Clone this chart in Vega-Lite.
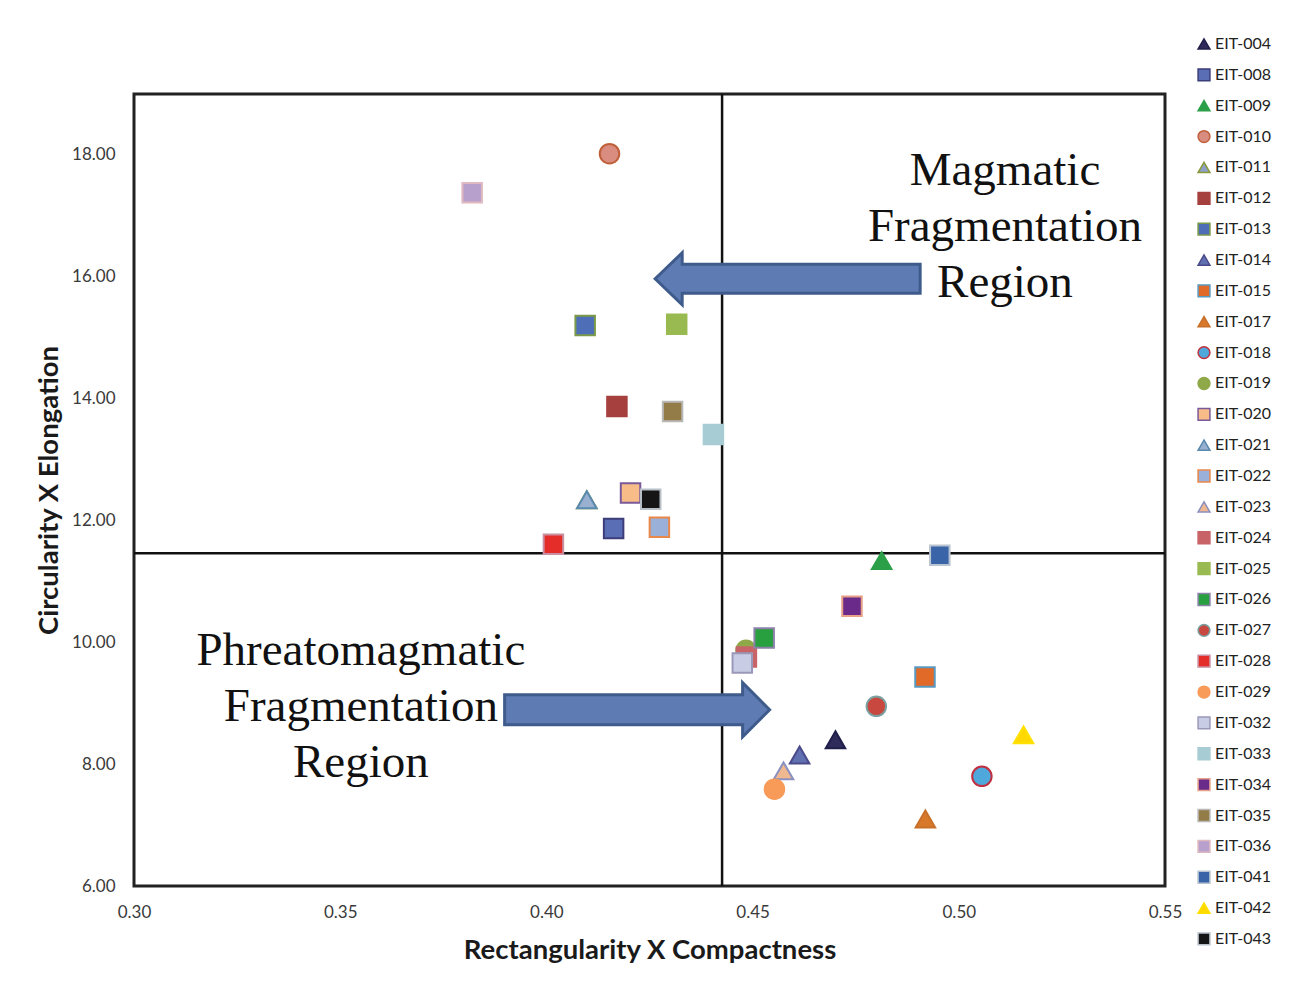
{
  "$schema": "https://vega.github.io/schema/vega-lite/v6.json",
  "width": 1031,
  "height": 792,
  "autosize": {"type": "none"},
  "padding": {"left": 134, "top": 94, "right": 142, "bottom": 105},
  "background": "white",
  "config": {
    "view": {"stroke": "#222222", "strokeWidth": 3},
    "font": "Lato",
    "axis": {"grid": false, "ticks": false, "domain": false, "labelFlush": false, "labelFont": "Lato", "labelFontSize": 17, "labelColor": "#3a3a3a", "titleFont": "Lato", "titleFontWeight": "bold", "titleColor": "#1a1a1a", "titleFontSize": 27.5},
    "legend": {"orient": "none", "legendX": 1062, "legendY": -58, "padding": 0, "symbolSize": 140, "symbolStrokeWidth": 1.5, "labelFont": "Lato", "labelFontSize": 16, "labelColor": "#222222", "rowPadding": 12.86, "labelOffset": 3}
  },
  "datasets": {
    "pts": [
      {"id": "EIT-004", "rc": 0.4701, "ce": 8.40},
      {"id": "EIT-008", "rc": 0.4163, "ce": 11.87},
      {"id": "EIT-009", "rc": 0.4813, "ce": 11.34},
      {"id": "EIT-010", "rc": 0.4153, "ce": 18.02},
      {"id": "EIT-011", "rc": 0.4098, "ce": 12.34},
      {"id": "EIT-012", "rc": 0.4171, "ce": 13.87},
      {"id": "EIT-013", "rc": 0.4094, "ce": 15.20},
      {"id": "EIT-014", "rc": 0.4614, "ce": 8.15},
      {"id": "EIT-015", "rc": 0.4918, "ce": 9.43},
      {"id": "EIT-017", "rc": 0.4919, "ce": 7.10},
      {"id": "EIT-018", "rc": 0.5056, "ce": 7.80},
      {"id": "EIT-019", "rc": 0.4484, "ce": 9.87},
      {"id": "EIT-020", "rc": 0.4204, "ce": 12.45},
      {"id": "EIT-021", "rc": 0.4098, "ce": 12.34},
      {"id": "EIT-022", "rc": 0.4274, "ce": 11.89},
      {"id": "EIT-023", "rc": 0.4575, "ce": 7.89},
      {"id": "EIT-024", "rc": 0.4485, "ce": 9.76},
      {"id": "EIT-025", "rc": 0.4316, "ce": 15.22},
      {"id": "EIT-026", "rc": 0.4528, "ce": 10.07},
      {"id": "EIT-027", "rc": 0.4800, "ce": 8.95},
      {"id": "EIT-028", "rc": 0.4017, "ce": 11.61},
      {"id": "EIT-029", "rc": 0.4553, "ce": 7.59},
      {"id": "EIT-032", "rc": 0.4475, "ce": 9.66},
      {"id": "EIT-033", "rc": 0.4405, "ce": 13.41},
      {"id": "EIT-034", "rc": 0.4741, "ce": 10.59},
      {"id": "EIT-035", "rc": 0.4306, "ce": 13.79},
      {"id": "EIT-036", "rc": 0.3820, "ce": 17.38},
      {"id": "EIT-041", "rc": 0.4954, "ce": 11.43},
      {"id": "EIT-042", "rc": 0.5157, "ce": 8.48},
      {"id": "EIT-043", "rc": 0.4253, "ce": 12.35}
    ]
  },
  "layer": [
    {
      "data": {"values": [{"rc": 0.4426}]},
      "mark": {"type": "rule", "color": "#111111", "strokeWidth": 2.5},
      "encoding": {"x": {"field": "rc", "type": "quantitative", "scale": {"domain": [0.30, 0.55], "nice": false}}}
    },
    {
      "data": {"values": [{"ce": 11.46}]},
      "mark": {"type": "rule", "color": "#111111", "strokeWidth": 2.5},
      "encoding": {"y": {"field": "ce", "type": "quantitative", "scale": {"domain": [6, 19], "nice": false}}}
    },
    {
      "data": {"name": "pts"},
      "mark": {"type": "point", "filled": true, "size": 380, "strokeWidth": 2, "opacity": 1, "fillOpacity": 1, "strokeOpacity": 1},
      "encoding": {
        "x": {"field": "rc", "type": "quantitative", "scale": {"domain": [0.30, 0.55], "nice": false},
          "axis": {"values": [0.30, 0.35, 0.40, 0.45, 0.50, 0.55], "format": ".2f", "title": "Rectangularity X Compactness", "labelPadding": 18, "titlePadding": 16}},
        "y": {"field": "ce", "type": "quantitative", "scale": {"domain": [6, 19], "nice": false},
          "axis": {"values": [6, 8, 10, 12, 14, 16, 18], "format": ".2f", "title": "Circularity X Elongation", "labelPadding": 19, "titlePadding": 8}},
        "shape": {"field": "id", "type": "nominal", "scale": {"range": [
          "triangle-up", "square", "triangle-up", "circle", "triangle-up", "square", "square", "triangle-up", "square", "triangle-up",
          "circle", "circle", "square", "triangle-up", "square", "triangle-up", "square", "square", "square", "circle",
          "square", "circle", "square", "square", "square", "square", "square", "square", "triangle-up", "square"]}, "legend": {"title": null}},
        "fill": {"field": "id", "type": "nominal", "scale": {"range": [
          "#2E2A5A", "#5A6EB5", "#2CA048", "#D98C80", "#8FA0C8", "#A5403E", "#4F6EB8", "#6070B0", "#E26A28", "#D8782A",
          "#4FA8DC", "#8FA848", "#F8BC88", "#9AB0D0", "#9AB0D8", "#F0B890", "#C86468", "#98BA50", "#28A040", "#C84840",
          "#E42C28", "#F89A58", "#C8CCE4", "#A8CCD4", "#6A2A8A", "#947C48", "#B8A0CC", "#3A64A8", "#FFD800", "#151515"]}, "legend": {"title": null}},
        "stroke": {"field": "id", "type": "nominal", "scale": {"range": [
          "#1F1F4A", "#3D3D7A", "#2CA048", "#C0603A", "#8A9A3A", "#A5403E", "#7A9A4A", "#4A4A8A", "#5A9AC0", "#C8702A",
          "#C03040", "#8FA848", "#7A5A9A", "#5A8AB0", "#E8884A", "#8A90C0", "#C86468", "#98BA50", "#8A80A8", "#7AA0A0",
          "#C890A0", "#F89A58", "#9A98B8", "#A8CCD4", "#E8A088", "#B8B8B8", "#E0B8C0", "#B8C4D0", "#FFE000", "#B8C0C8"]}, "legend": {"title": null}}
      }
    },
    {
      "data": {"values": [{"rc": 0.4585, "ce": 15.967}]},
      "mark": {"type": "point", "filled": true, "size": 70225, "fill": "#5F7BB3", "stroke": "#3F5B8C", "strokeWidth": 3, "opacity": 1, "fillOpacity": 1,
        "shape": "M-1,0 L-0.796,-0.196 L-0.796,-0.109 L1,-0.109 L1,0.109 L-0.796,0.109 L-0.796,0.196 Z"},
      "encoding": {"x": {"field": "rc", "type": "quantitative"}, "y": {"field": "ce", "type": "quantitative"}}
    },
    {
      "data": {"values": [{"rc": 0.4220, "ce": 8.893}]},
      "mark": {"type": "point", "filled": true, "size": 70225, "fill": "#5F7BB3", "stroke": "#3F5B8C", "strokeWidth": 3, "opacity": 1, "fillOpacity": 1,
        "shape": "M1,0 L0.796,-0.204 L0.796,-0.114 L-1,-0.114 L-1,0.114 L0.796,0.114 L0.796,0.204 Z"},
      "encoding": {"x": {"field": "rc", "type": "quantitative"}, "y": {"field": "ce", "type": "quantitative"}}
    },
    {
      "data": {"values": [
        {"rc": 0.5112, "ce": 17.74, "label": "Magmatic\nFragmentation\nRegion"},
        {"rc": 0.3550, "ce": 9.85, "label": "Phreatomagmatic\nFragmentation\nRegion"}
      ]},
      "mark": {"type": "text", "font": "Liberation Serif", "fontSize": 47, "lineHeight": 56, "lineBreak": "\n", "align": "center", "baseline": "middle", "color": "#111111"},
      "encoding": {"x": {"field": "rc", "type": "quantitative"}, "y": {"field": "ce", "type": "quantitative"}, "text": {"field": "label"}}
    }
  ],
  "resolve": {"legend": {"shape": "shared", "fill": "shared", "stroke": "shared"}},
  "encoding": {}
}
